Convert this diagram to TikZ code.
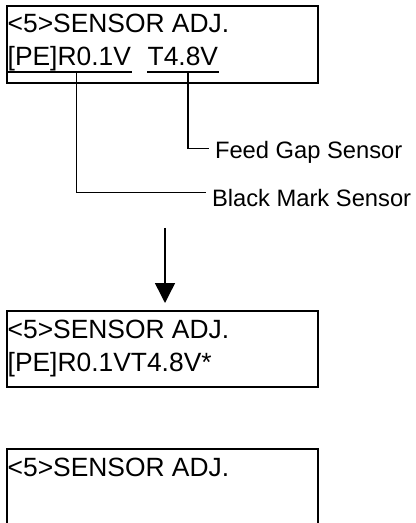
\documentclass[tikz,border=0pt]{standalone}
\usepackage{fontspec}
\setmainfont{Liberation Sans}
\usetikzlibrary{arrows.meta}
\tikzset{
  every picture/.style={line width=1pt},
  lcd/.style={draw, line width=1.5pt, anchor=north west, minimum width=233.25pt, inner sep=0pt},
  lcdtext/.style={anchor=base west, inner sep=0pt, font=\fontsize{19.8}{24}\selectfont},
  uline/.style={line width=1.3pt},
  leader/.style={line width=1.1pt},
  sensorlbl/.style={anchor=west, inner xsep=4pt, inner ysep=0pt, text height=12.7pt, text depth=0pt, font=\fontsize{17.8}{21}\selectfont},
  arrow/.style={-{Triangle[length=15pt, width=15pt]}, line width=1.1pt},
}

\begin{document}
\begin{tikzpicture}[x=0.75pt, y=-0.75pt]
  \useasboundingbox (0,0) rectangle (415,523);
  \clip (0,0) rectangle (415,523);
  % first screen with the two readings
  \node[lcd, minimum height=57.75pt] (lcd1) at (6,5) {};
  \node[lcdtext] (hd1) at (7,33) {<5>SENSOR ADJ.};
  \node[lcdtext] (rv) at (7,66) {[PE]R0.1V};
  \node[lcdtext] (tv) at (147,66) {T4.8V};
  \draw[uline] ([yshift=-4.3pt]rv.base west) -- ([yshift=-4.3pt]rv.base east);
  \draw[uline] ([yshift=-4.3pt]tv.base west) -- ([yshift=-4.3pt]tv.base east);
  % leaders to the sensor names
  \coordinate (bmtop) at (76.5,72);
  \coordinate (fgtop) at (188,72);
  \node[sensorlbl] (fg) at (209,150) {Feed Gap Sensor};
  \node[sensorlbl] (bm) at (206,198.5) {Black Mark Sensor};
  \draw[leader] (fgtop) |- ([yshift=1.3pt]fg.west);
  \draw[leader] (bmtop) |- ([yshift=4.3pt]bm.west);
  % second screen
  \coordinate (arrtop) at (165,228);
  \node[lcd, minimum height=57pt] (lcd2) at (6,310) {};
  \node[lcdtext] (hd2) at (7,338) {<5>SENSOR ADJ.};
  \node[lcdtext] (val2) at (7,371) {[PE]R0.1VT4.8V*};
  \draw[arrow, shorten >=5.25pt] (arrtop) -- (arrtop |- lcd2.north);
  % third screen, cut off below
  \node[lcd, minimum height=75pt] (lcd3) at (6,448) {};
  \node[lcdtext] (hd3) at (7,476) {<5>SENSOR ADJ.};
\end{tikzpicture}
\end{document}
